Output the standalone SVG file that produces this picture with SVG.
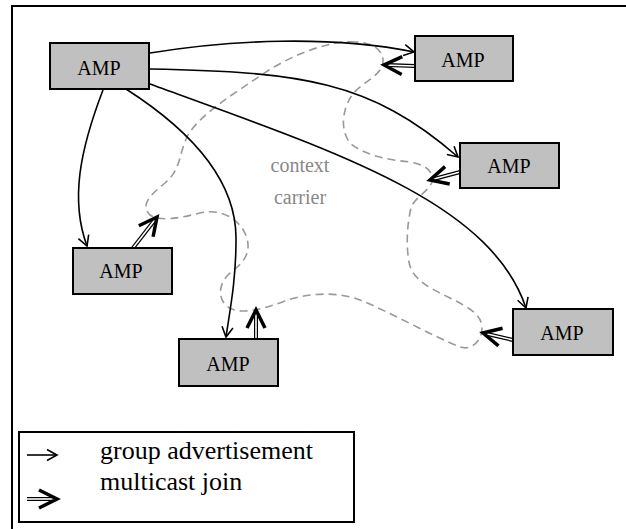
<svg xmlns="http://www.w3.org/2000/svg" width="626" height="529" viewBox="0 0 626 529">
<style>
.box{fill:#c0c0c0;stroke:#000;stroke-width:2}
.lbl{font-family:"Liberation Serif","Times New Roman",serif;font-size:20px;fill:#000;text-anchor:middle}
.adv{fill:none;stroke:#000;stroke-width:1.6}
.jo{fill:none;stroke:#000;stroke-width:4}
.ji{fill:none;stroke:#fff;stroke-width:1.6}
.carrier{fill:none;stroke:#999;stroke-width:1.6;stroke-dasharray:8 5}
.ctx{font-family:"Liberation Serif","Times New Roman",serif;font-size:20px;fill:#888;text-anchor:middle}
.leg{font-family:"Liberation Serif","Times New Roman",serif;font-size:26px;fill:#000}
</style>
<defs>
<marker id="ah" markerUnits="userSpaceOnUse" markerWidth="14" markerHeight="14" viewBox="-12 -7 14 14" refX="0" refY="0" orient="auto">
<path d="M-10,-5.5 L0,0 L-10,5.5" fill="none" stroke="#000" stroke-width="1.6"/>
</marker>
<marker id="jh" markerUnits="userSpaceOnUse" markerWidth="26" markerHeight="26" viewBox="-22 -13 26 26" refX="0" refY="0" orient="auto">
<path d="M-18,-9 L0,0 L-18,9" fill="none" stroke="#000" stroke-width="3.5" stroke-linejoin="miter"/>
</marker>
<clipPath id="legclip"><rect x="0" y="0" width="626" height="467"/></clipPath>
</defs>
<rect x="0" y="0" width="626" height="529" fill="#fff"/>
<path d="M12,529 L12,6 L626,6" fill="none" stroke="#000" stroke-width="2"/>

<g id="carrier">
<path class="carrier" d="M355,42 C330,40 290,55 260,76 C230,96 200,115 188,135 C178,155 182,168 165,183 C150,195 140,205 150,215 C160,222 180,218 200,213 C220,208 240,218 247,238 C252,258 238,266 228,275 C218,285 218,300 228,307 C240,315 260,310 285,301 C310,292 340,292 360,300 C390,312 430,335 460,347 C472,351 482,340 482,328 C482,315 470,308 450,298 C430,288 412,280 409,262 C406,245 407,225 411,208 C414,198 428,192 432,182 C434,170 425,165 410,162 C390,160 365,156 350,143 C340,130 342,110 352,95 C362,82 382,76 383,62 C384,50 372,42 355,42 Z"/>
<text class="ctx" x="300" y="172">context</text>
<text class="ctx" x="300" y="204">carrier</text>
</g>

<g id="connectors">
<path class="adv" marker-end="url(#ah)" d="M150,53 C230,40 330,35 414,52"/>
<path class="adv" marker-end="url(#ah)" d="M150,69 C300,72 370,80 458,157"/>
<path class="adv" marker-end="url(#ah)" d="M150,84 C330,150 490,200 526,308"/>
<path class="adv" marker-end="url(#ah)" d="M103,90 C80,150 70,200 87,246"/>
<path class="adv" marker-end="url(#ah)" d="M126,89 C190,130 237,180 236,240 C236,280 230,310 226,337"/>

<path class="jo" d="M415,66 L388,65"/>
<path class="ji" marker-end="url(#jh)" d="M415,66 L384,65"/>
<path class="jo" d="M460,172 L434,179"/>
<path class="ji" marker-end="url(#jh)" d="M460,172 L430,180"/>
<path class="jo" d="M513,340 L487,334"/>
<path class="ji" marker-end="url(#jh)" d="M513,340 L483,333"/>
<path class="jo" d="M133,248 L154,221"/>
<path class="ji" marker-end="url(#jh)" d="M133,248 L157,217"/>
<path class="jo" d="M256,339 L256,314"/>
<path class="ji" marker-end="url(#jh)" d="M256,339 L256,310"/>
</g>

<g id="amp0"><rect class="box" x="50" y="43" width="99" height="46"/><text class="lbl" x="99" y="75">AMP</text></g>
<g id="amp1"><rect class="box" x="415" y="36" width="98" height="45"/><text class="lbl" x="463" y="66.5">AMP</text></g>
<g id="amp2"><rect class="box" x="460" y="143" width="99" height="45"/><text class="lbl" x="509" y="173">AMP</text></g>
<g id="amp3"><rect class="box" x="73" y="248" width="99" height="46"/><text class="lbl" x="121" y="278">AMP</text></g>
<g id="amp4"><rect class="box" x="179" y="339" width="99" height="47"/><text class="lbl" x="228" y="371">AMP</text></g>
<g id="amp5"><rect class="box" x="513" y="309" width="100" height="46"/><text class="lbl" x="562" y="340">AMP</text></g>

<g id="legend">
<rect x="19" y="432" width="335" height="90" fill="#fff" stroke="#000" stroke-width="2"/>
<path class="adv" marker-end="url(#ah)" d="M27,455 L57,455" style="stroke-width:1.6"/>
<text class="leg" x="100" y="459" clip-path="url(#legclip)">group advertisement</text>
<path class="jo" d="M27,499 L52,499"/>
<path class="ji" marker-end="url(#jh)" d="M27,499 L57,499"/>
<text class="leg" x="100" y="490">multicast join</text>
</g>
</svg>
